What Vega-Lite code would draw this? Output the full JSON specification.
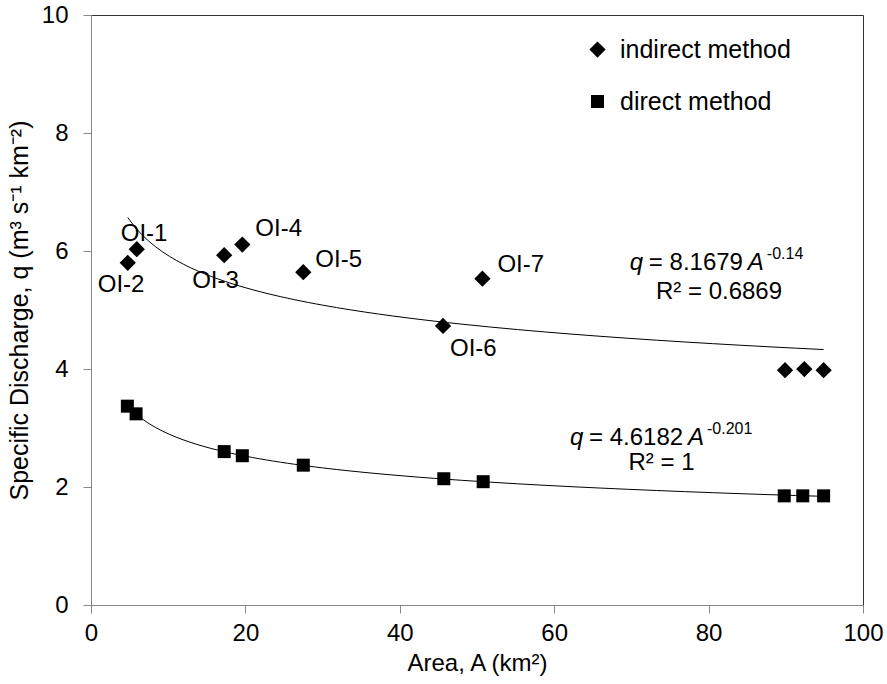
{
  "$schema": "https://vega.github.io/schema/vega-lite/v6.json",
  "width": 772,
  "height": 590,
  "autosize": {"type": "none"},
  "padding": {"left": 91, "top": 15, "right": 24, "bottom": 79},
  "background": "white",
  "config": {
    "font": "Liberation Sans",
    "view": {"stroke": "#333", "strokeWidth": 1},
    "axis": {"grid": false, "labelFlush": false, "domainColor": "#888", "tickColor": "#888", "tickSize": 8, "labelColor": "#000", "titleColor": "#000", "labelFontSize": 24, "titleFontSize": 24, "titleFontWeight": "normal"}
  },
  "datasets": {
    "obs": [
      {"method": "indirect method", "A": 4.76, "q": 5.80, "site": "OI-2"},
      {"method": "indirect method", "A": 5.93, "q": 6.03, "site": "OI-1"},
      {"method": "indirect method", "A": 17.25, "q": 5.93, "site": "OI-3"},
      {"method": "indirect method", "A": 19.6, "q": 6.11, "site": "OI-4"},
      {"method": "indirect method", "A": 27.5, "q": 5.64, "site": "OI-5"},
      {"method": "indirect method", "A": 45.6, "q": 4.73, "site": "OI-6"},
      {"method": "indirect method", "A": 50.7, "q": 5.53, "site": "OI-7"},
      {"method": "indirect method", "A": 89.9, "q": 3.98, "site": ""},
      {"method": "indirect method", "A": 92.4, "q": 4.00, "site": ""},
      {"method": "indirect method", "A": 94.9, "q": 3.98, "site": ""},
      {"method": "direct method", "A": 4.71, "q": 3.37, "site": ""},
      {"method": "direct method", "A": 5.84, "q": 3.24, "site": ""},
      {"method": "direct method", "A": 17.25, "q": 2.60, "site": ""},
      {"method": "direct method", "A": 19.6, "q": 2.53, "site": ""},
      {"method": "direct method", "A": 27.5, "q": 2.37, "site": ""},
      {"method": "direct method", "A": 45.7, "q": 2.14, "site": ""},
      {"method": "direct method", "A": 50.8, "q": 2.09, "site": ""},
      {"method": "direct method", "A": 89.8, "q": 1.85, "site": ""},
      {"method": "direct method", "A": 92.2, "q": 1.85, "site": ""},
      {"method": "direct method", "A": 94.9, "q": 1.85, "site": ""}
    ],
    "eq": [
      {"fit": "indirect", "A": 69.8, "q": 5.80, "coef": "= 8.1679", "exp": "-0.14", "r2": "R² = 0.6869", "rA": 81.35, "rq": 5.31},
      {"fit": "direct", "A": 62.05, "q": 2.83, "coef": "= 4.6182", "exp": "-0.201", "r2": "R² = 1", "rA": 73.9, "rq": 2.41}
    ]
  },
  "layer": [
    {
      "data": {"name": "obs"},
      "transform": [{"filter": "datum.method == 'indirect method'"}, {"regression": "q", "on": "A", "method": "pow"}],
      "mark": {"type": "line", "color": "#000", "strokeWidth": 1},
      "encoding": {
        "x": {"field": "A", "type": "quantitative"},
        "y": {"field": "q", "type": "quantitative"}
      }
    },
    {
      "data": {"name": "obs"},
      "transform": [{"filter": "datum.method == 'direct method'"}, {"regression": "q", "on": "A", "method": "pow"}],
      "mark": {"type": "line", "color": "#000", "strokeWidth": 1},
      "encoding": {
        "x": {"field": "A", "type": "quantitative"},
        "y": {"field": "q", "type": "quantitative"}
      }
    },
    {
      "data": {"name": "obs"},
      "mark": {"type": "point", "filled": true, "opacity": 1, "color": "#000", "size": 169},
      "encoding": {
        "x": {"field": "A", "type": "quantitative", "scale": {"domain": [0, 100], "nice": false}, "axis": {"values": [0, 20, 40, 60, 80, 100], "format": "d", "title": "Area, A (km²)", "labelPadding": 8, "titlePadding": 6}},
        "y": {"field": "q", "type": "quantitative", "scale": {"domain": [0, 10], "nice": false}, "axis": {"values": [0, 2, 4, 6, 8, 10], "format": "d", "title": "Specific Discharge, q (m³ s⁻¹ km⁻²)", "labelPadding": 15, "titlePadding": 9, "titleFontSize": 25}},
        "shape": {"field": "method", "type": "nominal", "scale": {"domain": ["indirect method", "direct method"], "range": ["M-1.25,0L0,-1.25L1.25,0L0,1.25Z", "square"]},
          "legend": {"title": null, "orient": "none", "legendX": 494, "legendY": 22, "labelFontSize": 25, "labelLimit": 0, "labelColor": "#000", "symbolSize": 169, "symbolFillColor": "#000", "symbolStrokeColor": "#000", "symbolOpacity": 1, "rowPadding": 26, "labelOffset": 10, "padding": 0}}
      }
    },
    {"data": {"name": "obs"}, "transform": [{"filter": "datum.site == 'OI-1'"}], "mark": {"type": "text", "align": "left", "baseline": "middle", "fontSize": 24, "dx": -16, "dy": -15, "color": "#000"}, "encoding": {"x": {"field": "A", "type": "quantitative"}, "y": {"field": "q", "type": "quantitative"}, "text": {"field": "site"}}},
    {"data": {"name": "obs"}, "transform": [{"filter": "datum.site == 'OI-2'"}], "mark": {"type": "text", "align": "left", "baseline": "middle", "fontSize": 24, "dx": -30, "dy": 22, "color": "#000"}, "encoding": {"x": {"field": "A", "type": "quantitative"}, "y": {"field": "q", "type": "quantitative"}, "text": {"field": "site"}}},
    {"data": {"name": "obs"}, "transform": [{"filter": "datum.site == 'OI-3'"}], "mark": {"type": "text", "align": "left", "baseline": "middle", "fontSize": 24, "dx": -32, "dy": 26, "color": "#000"}, "encoding": {"x": {"field": "A", "type": "quantitative"}, "y": {"field": "q", "type": "quantitative"}, "text": {"field": "site"}}},
    {"data": {"name": "obs"}, "transform": [{"filter": "datum.site == 'OI-4'"}], "mark": {"type": "text", "align": "left", "baseline": "middle", "fontSize": 24, "dx": 13, "dy": -16, "color": "#000"}, "encoding": {"x": {"field": "A", "type": "quantitative"}, "y": {"field": "q", "type": "quantitative"}, "text": {"field": "site"}}},
    {"data": {"name": "obs"}, "transform": [{"filter": "datum.site == 'OI-5'"}], "mark": {"type": "text", "align": "left", "baseline": "middle", "fontSize": 24, "dx": 12, "dy": -12, "color": "#000"}, "encoding": {"x": {"field": "A", "type": "quantitative"}, "y": {"field": "q", "type": "quantitative"}, "text": {"field": "site"}}},
    {"data": {"name": "obs"}, "transform": [{"filter": "datum.site == 'OI-6'"}], "mark": {"type": "text", "align": "left", "baseline": "middle", "fontSize": 24, "dx": 7, "dy": 23, "color": "#000"}, "encoding": {"x": {"field": "A", "type": "quantitative"}, "y": {"field": "q", "type": "quantitative"}, "text": {"field": "site"}}},
    {"data": {"name": "obs"}, "transform": [{"filter": "datum.site == 'OI-7'"}], "mark": {"type": "text", "align": "left", "baseline": "middle", "fontSize": 24, "dx": 15, "dy": -14, "color": "#000"}, "encoding": {"x": {"field": "A", "type": "quantitative"}, "y": {"field": "q", "type": "quantitative"}, "text": {"field": "site"}}},
    {"data": {"name": "eq"}, "mark": {"type": "text", "align": "left", "baseline": "middle", "fontSize": 24, "fontStyle": "italic", "dx": 0, "color": "#000"}, "encoding": {"x": {"field": "A", "type": "quantitative"}, "y": {"field": "q", "type": "quantitative"}, "text": {"value": "q"}}},
    {"data": {"name": "eq"}, "mark": {"type": "text", "align": "left", "baseline": "middle", "fontSize": 24, "dx": 19, "color": "#000"}, "encoding": {"x": {"field": "A", "type": "quantitative"}, "y": {"field": "q", "type": "quantitative"}, "text": {"field": "coef"}}},
    {"data": {"name": "eq"}, "mark": {"type": "text", "align": "left", "baseline": "middle", "fontSize": 24, "fontStyle": "italic", "dx": 118, "color": "#000"}, "encoding": {"x": {"field": "A", "type": "quantitative"}, "y": {"field": "q", "type": "quantitative"}, "text": {"value": "A"}}},
    {"data": {"name": "eq"}, "mark": {"type": "text", "align": "left", "baseline": "middle", "fontSize": 16, "dx": 137, "dy": -9, "color": "#000"}, "encoding": {"x": {"field": "A", "type": "quantitative"}, "y": {"field": "q", "type": "quantitative"}, "text": {"field": "exp"}}},
    {"data": {"name": "eq"}, "mark": {"type": "text", "align": "center", "baseline": "middle", "fontSize": 24, "color": "#000"}, "encoding": {"x": {"field": "rA", "type": "quantitative"}, "y": {"field": "rq", "type": "quantitative"}, "text": {"field": "r2"}}}
  ]
}
